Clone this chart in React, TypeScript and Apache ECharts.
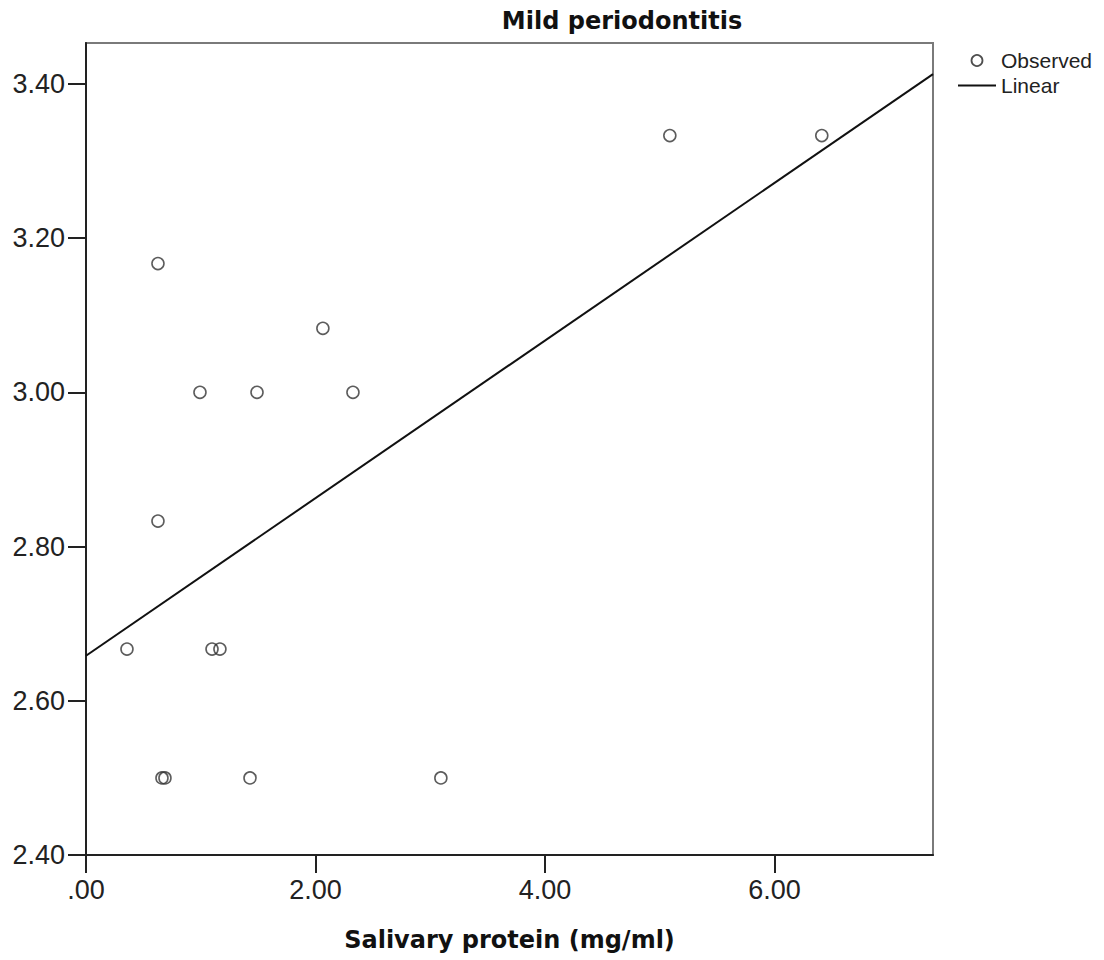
import React, { useEffect, useRef } from "react";
import * as echarts from "echarts";

const titleText = "Mild periodontitis";
const xAxisTitle = "Salivary protein (mg/ml)";
const proteinValues = [0.357, 0.627, 0.627, 0.993, 1.49, 2.064, 2.326, 1.098, 1.167, 0.662, 0.688, 1.429, 3.092, 5.087, 6.411];
const scoreValues = [2.667, 3.167, 2.833, 3.0, 3.0, 3.083, 3.0, 2.667, 2.667, 2.5, 2.5, 2.5, 2.5, 3.333, 3.333];
const xTicks = [0, 2, 4, 6];
const yTicks = [2.4, 2.6, 2.8, 3.0, 3.2, 3.4];
const xRange = [0, 7.38];
const yRange = [2.4, 3.453];
const legendNames = ["Observed", "Linear"];

function fitLine(xs: number[], ys: number[]) {
  const n = xs.length;
  const mx = xs.reduce((a, b) => a + b, 0) / n;
  const my = ys.reduce((a, b) => a + b, 0) / n;
  let sxy = 0, sxx = 0;
  for (let i = 0; i < n; i++) {
    sxy += (xs[i] - mx) * (ys[i] - my);
    sxx += (xs[i] - mx) * (xs[i] - mx);
  }
  const slope = sxy / sxx;
  return { slope, intercept: my - slope * mx };
}

export default function App() {
  const ref = useRef<HTMLDivElement>(null);
  useEffect(() => {
    if (!ref.current) return;
    const chart = echarts.init(ref.current, undefined, { renderer: "svg" });
    const { slope, intercept } = fitLine(proteinValues, scoreValues);
    const fit = xRange.map((x) => [x, intercept + slope * x]);
    const dark = "#222";
    const tickFont = { fontFamily: "Liberation Sans", fontSize: 27, color: "#222" };
    chart.setOption({
      animation: false,
      backgroundColor: "#fff",
      grid: {
        left: 86, right: 171, top: 43, bottom: 105,
        show: true, borderColor: "#7a7a7a", borderWidth: 2,
        outerBoundsMode: "none", containLabel: false,
      },
      legend: {
        data: [
          { name: legendNames[0], itemStyle: { color: "rgba(255,255,255,0)", borderColor: "#222", borderWidth: 1.8 } },
          { name: legendNames[1], itemStyle: { color: "rgba(0,0,0,0)", borderWidth: 0, opacity: 0 } },
        ],
        orient: "vertical",
        left: 957, top: 50, padding: 0,
        itemWidth: 38, itemHeight: 11, itemGap: 4,
        textStyle: { fontFamily: "Liberation Sans", fontSize: 21, color: "#222" },
        selectedMode: false,
      },
      graphic: [
        {
          type: "text", x: 622, y: 21,
          style: {
            text: titleText, fontFamily: "DejaVu Sans", fontWeight: "bold", fontSize: 24,
            fill: "#111", align: "center", verticalAlign: "middle",
          },
        },
      ],
      xAxis: {
        type: "value", min: xRange[0], max: xRange[1],
        name: xAxisTitle, nameLocation: "middle", nameGap: 73,
        nameTextStyle: { fontFamily: "DejaVu Sans", fontWeight: "bold", fontSize: 24, color: "#111" },
        splitLine: { show: false },
        axisLine: { show: true, onZero: false, lineStyle: { color: dark, width: 2 } },
        axisTick: { show: true, inside: false, length: 18, customValues: xTicks, lineStyle: { color: dark, width: 2 } },
        axisLabel: {
          ...tickFont, margin: 21, customValues: xTicks,
          formatter: (v: number) => (v === 0 ? ".00" : v.toFixed(2)),
        },
      },
      yAxis: {
        type: "value", min: yRange[0], max: yRange[1],
        splitLine: { show: false },
        axisLine: { show: true, onZero: false, lineStyle: { color: dark, width: 2 } },
        axisTick: { show: true, inside: false, length: 18, customValues: yTicks, lineStyle: { color: dark, width: 2 } },
        axisLabel: {
          ...tickFont, margin: 21, customValues: yTicks,
          formatter: (v: number) => v.toFixed(2),
        },
      },
      series: [
        {
          name: legendNames[0], type: "scatter", symbol: "circle", symbolSize: 12,
          itemStyle: { color: "rgba(255,255,255,0)", borderColor: "#333", borderWidth: 1.6 },
          data: proteinValues.map((x, i) => [x, scoreValues[i]]),
          z: 3,
        },
        {
          name: legendNames[1], type: "line", showSymbol: false, symbol: "none",
          lineStyle: { color: "#111", width: 2 },
          itemStyle: { color: "#111" },
          data: fit, z: 2,
        },
      ],
    });
    return () => chart.dispose();
  }, []);
  return <div ref={ref} style={{ position: "fixed", left: 0, top: 0, width: 1104, height: 960 }} />;
}
